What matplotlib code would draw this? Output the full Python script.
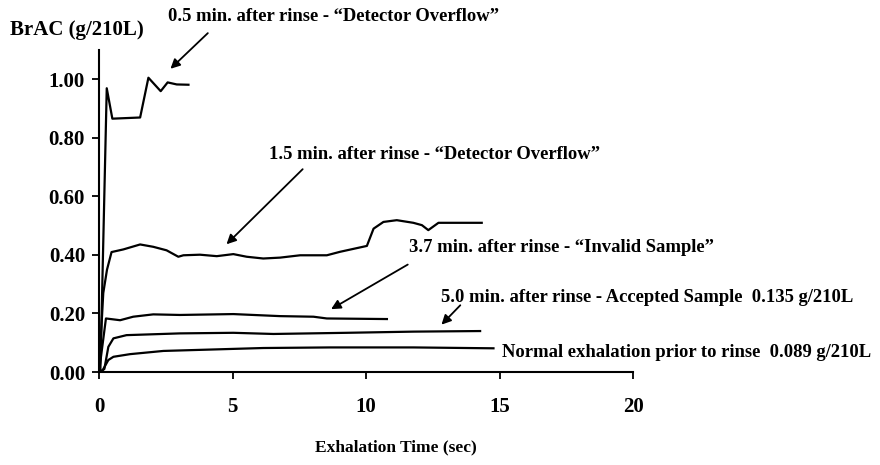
import matplotlib
matplotlib.use("Agg")
import matplotlib.pyplot as plt

plt.rcParams["font.family"] = "Liberation Serif"
plt.rcParams["font.weight"] = "bold"

# BrAC curves (time in sec, BrAC in g/210L)
t_05 = [0.0, 0.05, 0.29, 0.5, 1.54, 1.85, 2.31, 2.57, 2.91, 3.35]
y_05 = [0.0, 0.0, 0.97, 0.866, 0.87, 1.006, 0.96, 0.99, 0.983, 0.982]

t_15 = [0.0, 0.16, 0.3, 0.47, 0.91, 1.54, 2.03, 2.53, 2.97, 3.16, 3.78, 4.41,
        5.03, 5.53, 6.15, 6.78, 7.53, 8.53, 9.03, 10.03, 10.28, 10.65, 11.15,
        11.77, 12.09, 12.33, 12.71, 14.33]
y_15 = [0.0, 0.27, 0.35, 0.41, 0.419, 0.436, 0.428, 0.416, 0.394, 0.399, 0.401,
        0.396, 0.403, 0.394, 0.388, 0.391, 0.399, 0.399, 0.411, 0.431, 0.49,
        0.513, 0.519, 0.51, 0.502, 0.485, 0.51, 0.51]

t_37 = [0.0, 0.26, 0.79, 1.28, 2.03, 3.03, 5.03, 6.78, 8.03, 8.53, 10.78]
y_37 = [0.0, 0.183, 0.177, 0.189, 0.197, 0.195, 0.198, 0.191, 0.189, 0.183, 0.181]

t_50 = [0.0, 0.2, 0.35, 0.54, 1.03, 3.03, 5.03, 6.53, 9.28, 11.77, 14.27]
y_50 = [0.0, 0.01, 0.086, 0.115, 0.126, 0.132, 0.134, 0.13, 0.134, 0.138, 0.14]

t_norm = [0.0, 0.1, 0.35, 0.54, 1.16, 2.41, 4.28, 6.15, 8.65, 11.77, 14.77]
y_norm = [0.0, 0.0, 0.041, 0.052, 0.061, 0.072, 0.077, 0.082, 0.084, 0.084, 0.081]

x_ticks = [0, 5, 10, 15, 20]
y_ticks = [0.0, 0.2, 0.4, 0.6, 0.8, 1.0]

fig = plt.figure(figsize=(8.8, 4.65), dpi=100)
ax = fig.add_axes([0.1125, 0.2, 0.607, 0.692])

for t, y in [(t_05, y_05), (t_15, y_15), (t_37, y_37), (t_50, y_50), (t_norm, y_norm)]:
    ax.plot(t, y, color="black", lw=1.6)

ax.set_xlim(0, 20)
ax.set_ylim(0, 1.1)
ax.set_xticks(x_ticks)
ax.set_yticks(y_ticks)
ax.set_yticklabels(["%.2f" % v for v in y_ticks])
ax.spines["top"].set_visible(False)
ax.spines["right"].set_visible(False)
ax.spines["left"].set_linewidth(1.5)
ax.spines["bottom"].set_linewidth(1.5)
ax.tick_params(direction="out", length=5, width=1.3, labelsize=15, pad=13)
ax.tick_params(axis="y", pad=5)

fs = 13.4
arrow = dict(arrowstyle="-|>", color="black", lw=1.3, mutation_scale=14)
ax.annotate("0.5 min. after rinse - \u201cDetector Overflow\u201d", xy=(2.6, 1.02),
            xytext=(2.6, 1.215), fontsize=fs, ha="left", va="center")
ax.annotate("", xy=(2.6, 1.03), xytext=(4.15, 1.165), arrowprops=arrow)

ax.annotate("1.5 min. after rinse - \u201cDetector Overflow\u201d", xy=(4.7, 0.745),
            xytext=(6.35, 0.745), fontsize=fs, ha="left", va="center")
ax.annotate("", xy=(4.7, 0.43), xytext=(7.7, 0.70), arrowprops=arrow)

ax.annotate("3.7 min. after rinse - \u201cInvalid Sample\u201d", xy=(11.6, 0.425),
            xytext=(11.6, 0.425), fontsize=fs, ha="left", va="center")
ax.annotate("", xy=(8.6, 0.21), xytext=(11.65, 0.372), arrowprops=arrow)

ax.annotate("5.0 min. after rinse - Accepted Sample  0.135 g/210L", xy=(12.8, 0.255),
            xytext=(12.8, 0.255), fontsize=fs, ha="left", va="center",
            annotation_clip=False)
ax.annotate("", xy=(12.75, 0.155), xytext=(13.6, 0.235), arrowprops=arrow)

ax.annotate("Normal exhalation prior to rinse  0.089 g/210L", xy=(15.1, 0.065),
            xytext=(15.1, 0.065), fontsize=fs, ha="left", va="center",
            annotation_clip=False)

fig.text(0.011, 0.935, "BrAC (g/210L)", fontsize=15, ha="left", va="center")
fig.text(0.45, 0.037, "Exhalation Time (sec)", fontsize=12.5, ha="center", va="center")

fig.savefig("out.png", dpi=100, facecolor="white")
